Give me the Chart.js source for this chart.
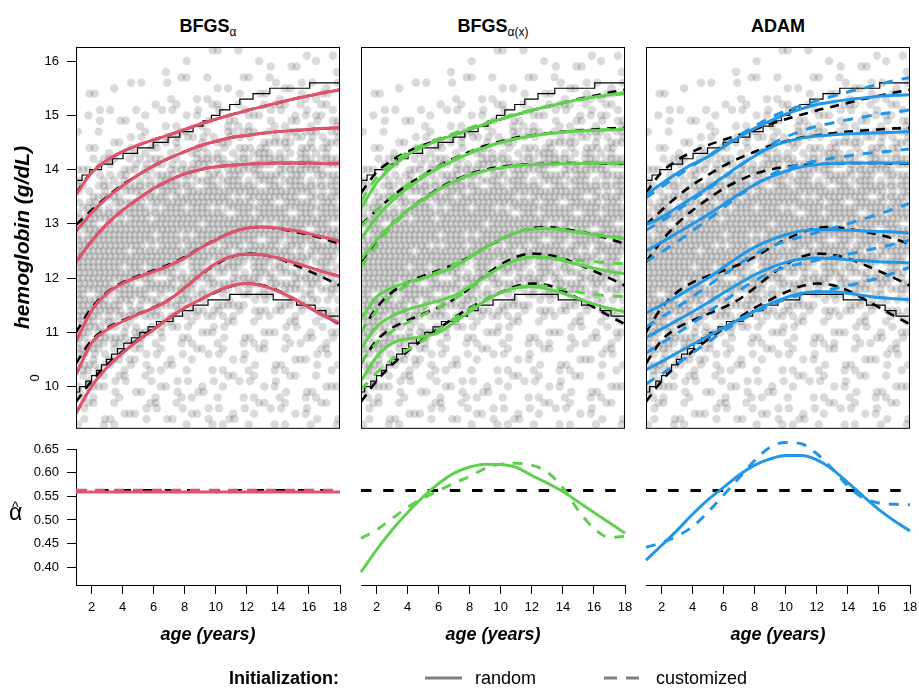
<!DOCTYPE html>
<html>
<head>
<meta charset="utf-8">
<script src="https://cdn.jsdelivr.net/npm/chart.js@4.4.1/dist/chart.umd.min.js"></script>
<style>
  body { margin: 0; background: #fff; }
  #fig { position: relative; width: 919px; height: 689px; overflow: hidden;
         font-family: "Liberation Sans", Arial, Helvetica, sans-serif; color: #000; }
  #fig canvas { position: absolute; }
  .ttl { position: absolute; top: 16px; width: 264px; text-align: center;
         font-weight: bold; font-size: 18px; line-height: 20px; }
  .ttl sub { font-size: 12px; font-weight: normal; vertical-align: -4px; line-height: 0; }
  .txt { position: absolute; white-space: nowrap; font-size: 18px; line-height: 20px; }
</style>
</head>
<body>
<div id="fig">
  <div class="ttl" style="left:76px">BFGS<sub>α</sub></div>
  <div class="ttl" style="left:361px">BFGS<sub>α(x)</sub></div>
  <div class="ttl" style="left:646px">ADAM</div>

  <canvas id="top0" width="350" height="432" style="left:0px;top:0px"></canvas>
  <canvas id="top1" width="350" height="432" style="left:285px;top:0px"></canvas>
  <canvas id="top2" width="350" height="432" style="left:570px;top:0px"></canvas>
  <canvas id="bot0" width="350" height="225" style="left:0px;top:430px"></canvas>
  <canvas id="bot1" width="350" height="225" style="left:285px;top:430px"></canvas>
  <canvas id="bot2" width="350" height="225" style="left:570px;top:430px"></canvas>

  <div class="txt" style="left:31px;top:368px;font-size:13px;transform:rotate(-90deg)">0</div>
  <div class="txt" style="left:9px;top:500px;font-size:23px;line-height:24px">α</div>
  <div class="txt" style="left:12px;top:500px;font-size:14px;line-height:14px">^</div>

  <div class="txt" style="left:229px;top:668px;font-weight:bold">Initialization:</div>
  <svg style="position:absolute;left:420px;top:670px" width="230" height="16">
    <line x1="5" y1="8" x2="42" y2="8" stroke="#808080" stroke-width="3"/>
    <line x1="184" y1="8" x2="219" y2="8" stroke="#808080" stroke-width="3" stroke-dasharray="13 9"/>
  </svg>
  <div class="txt" style="left:475px;top:668px">random</div>
  <div class="txt" style="left:656px;top:668px">customized</div>
</div>

<script>
const FONT = '"Liberation Sans", Arial, Helvetica, sans-serif';
const RED = '#DF536B', GREEN = '#61D04F', BLUE = '#2297E6';

// ---------- data ----------
const AGES = [1, 2, 3, 4, 5, 6, 7, 8, 9, 10, 11, 12, 13, 14, 15, 16, 17, 18];
const HGB_TICKS = [10, 11, 12, 13, 14, 15, 16];
const AGE_TICKS = [2, 4, 6, 8, 10, 12, 14, 16, 18];
const ALPHA_TICKS = [0.40, 0.45, 0.50, 0.55, 0.60, 0.65];

// true quantile curves (black dashed), top to bottom
const trueA = [13.57, 13.95, 14.17, 14.33, 14.45, 14.55, 14.64, 14.74, 14.84, 14.93, 15.01, 15.09, 15.16, 15.23, 15.30, 15.36, 15.42, 15.47];
const trueB = [12.98, 13.25, 13.50, 13.72, 13.90, 14.07, 14.21, 14.33, 14.44, 14.52, 14.59, 14.63, 14.67, 14.70, 14.72, 14.74, 14.76, 14.77];
const trueC = [12.30, 12.68, 13.00, 13.25, 13.46, 13.65, 13.80, 13.92, 14.00, 14.05, 14.08, 14.10, 14.11, 14.12, 14.12, 14.12, 14.11, 14.11];
const trueD = [11.00, 11.45, 11.74, 11.92, 12.04, 12.14, 12.25, 12.39, 12.56, 12.71, 12.84, 12.92, 12.94, 12.91, 12.86, 12.80, 12.72, 12.63];
const trueE = [10.43, 10.85, 11.08, 11.22, 11.34, 11.46, 11.61, 11.82, 12.05, 12.25, 12.39, 12.45, 12.43, 12.36, 12.25, 12.13, 12.00, 11.86];
const trueF = [9.72, 10.10, 10.40, 10.65, 10.87, 11.07, 11.27, 11.45, 11.60, 11.74, 11.85, 11.90, 11.87, 11.77, 11.62, 11.46, 11.30, 11.15];

// BFGS_alpha fits (random and customized start coincide)
const redA = [13.54, 13.94, 14.17, 14.33, 14.45, 14.55, 14.64, 14.74, 14.84, 14.93, 15.01, 15.09, 15.16, 15.23, 15.30, 15.36, 15.42, 15.47];
const redB = [12.86, 13.20, 13.48, 13.70, 13.90, 14.07, 14.21, 14.33, 14.44, 14.52, 14.59, 14.63, 14.67, 14.70, 14.72, 14.74, 14.76, 14.77];
const redC = [12.30, 12.68, 13.00, 13.25, 13.46, 13.65, 13.80, 13.92, 14.00, 14.05, 14.08, 14.10, 14.11, 14.12, 14.12, 14.12, 14.11, 14.11];
const redD = [10.83, 11.40, 11.72, 11.90, 12.02, 12.12, 12.23, 12.37, 12.55, 12.70, 12.84, 12.92, 12.94, 12.92, 12.88, 12.82, 12.75, 12.68];
const redE = [10.22, 10.80, 11.05, 11.20, 11.33, 11.45, 11.60, 11.82, 12.06, 12.27, 12.40, 12.44, 12.43, 12.37, 12.29, 12.20, 12.11, 12.03];
const redF = [9.51, 10.00, 10.35, 10.62, 10.85, 11.05, 11.27, 11.45, 11.60, 11.75, 11.86, 11.90, 11.86, 11.76, 11.62, 11.46, 11.30, 11.17];

// BFGS_alpha(x) fits
const greenA = [13.28, 13.75, 14.05, 14.27, 14.42, 14.54, 14.64, 14.74, 14.84, 14.93, 15.01, 15.09, 15.16, 15.23, 15.29, 15.34, 15.38, 15.42];
const greenB = [12.72, 13.12, 13.42, 13.66, 13.86, 14.03, 14.17, 14.30, 14.41, 14.50, 14.57, 14.62, 14.66, 14.69, 14.71, 14.72, 14.73, 14.74];
const greenC = [12.34, 12.70, 13.00, 13.25, 13.45, 13.63, 13.78, 13.90, 13.98, 14.03, 14.07, 14.09, 14.10, 14.11, 14.11, 14.12, 14.12, 14.12];
const greenD = [11.25, 11.65, 11.82, 11.92, 12.00, 12.09, 12.21, 12.38, 12.56, 12.72, 12.84, 12.90, 12.91, 12.88, 12.84, 12.80, 12.76, 12.72];
const greenE = [10.70, 11.10, 11.30, 11.42, 11.50, 11.58, 11.68, 11.84, 12.03, 12.20, 12.33, 12.39, 12.38, 12.32, 12.25, 12.18, 12.12, 12.08];
const greenF = [10.10, 10.55, 10.80, 10.88, 10.92, 11.00, 11.18, 11.38, 11.58, 11.73, 11.82, 11.84, 11.80, 11.72, 11.62, 11.52, 11.44, 11.38];
const greenA2 = [13.42, 13.85, 14.12, 14.32, 14.46, 14.57, 14.67, 14.77, 14.86, 14.95, 15.03, 15.10, 15.17, 15.23, 15.28, 15.33, 15.37, 15.40];
const greenB2 = [12.95, 13.25, 13.50, 13.72, 13.90, 14.06, 14.20, 14.32, 14.42, 14.50, 14.57, 14.62, 14.66, 14.69, 14.71, 14.73, 14.74, 14.75];
const greenC2 = [12.20, 12.60, 12.95, 13.22, 13.44, 13.63, 13.78, 13.90, 13.98, 14.03, 14.07, 14.09, 14.10, 14.11, 14.11, 14.11, 14.11, 14.11];
const greenD2 = [11.00, 11.40, 11.68, 11.87, 12.00, 12.12, 12.25, 12.40, 12.57, 12.72, 12.84, 12.91, 12.92, 12.90, 12.86, 12.82, 12.78, 12.74];
const greenE2 = [10.45, 10.80, 11.02, 11.18, 11.32, 11.46, 11.61, 11.80, 12.02, 12.20, 12.33, 12.39, 12.39, 12.36, 12.33, 12.30, 12.28, 12.26];
const greenF2 = [9.94, 10.25, 10.50, 10.68, 10.85, 11.05, 11.25, 11.43, 11.60, 11.73, 11.82, 11.86, 11.85, 11.80, 11.74, 11.70, 11.67, 11.66];

// ADAM fits
const blueA = [13.54, 13.74, 13.93, 14.10, 14.24, 14.42, 14.60, 14.76, 14.90, 15.02, 15.12, 15.20, 15.25, 15.29, 15.32, 15.35, 15.37, 15.38];
const blueB = [12.98, 13.12, 13.30, 13.48, 13.67, 13.87, 14.07, 14.25, 14.41, 14.51, 14.58, 14.62, 14.64, 14.66, 14.67, 14.68, 14.69, 14.70];
const blueC = [12.50, 12.66, 12.83, 13.00, 13.17, 13.36, 13.55, 13.72, 13.86, 13.97, 14.05, 14.09, 14.11, 14.12, 14.12, 14.12, 14.12, 14.12];
const blueD = [11.36, 11.50, 11.66, 11.83, 12.00, 12.20, 12.40, 12.57, 12.70, 12.80, 12.87, 12.89, 12.89, 12.88, 12.87, 12.86, 12.85, 12.83];
const blueE = [10.90, 11.06, 11.22, 11.38, 11.55, 11.73, 11.90, 12.06, 12.19, 12.29, 12.35, 12.37, 12.36, 12.34, 12.32, 12.30, 12.29, 12.28];
const blueF = [10.31, 10.46, 10.62, 10.78, 10.93, 11.08, 11.24, 11.39, 11.53, 11.64, 11.72, 11.75, 11.75, 11.72, 11.68, 11.64, 11.62, 11.60];
const blueA2 = [13.48, 13.68, 13.88, 14.07, 14.25, 14.44, 14.63, 14.80, 14.96, 15.08, 15.18, 15.27, 15.35, 15.43, 15.50, 15.57, 15.64, 15.70];
const blueB2 = [12.88, 13.05, 13.24, 13.44, 13.64, 13.85, 14.06, 14.26, 14.45, 14.60, 14.71, 14.80, 14.86, 14.92, 14.97, 15.02, 15.06, 15.10];
const blueC2 = [12.30, 12.48, 12.67, 12.87, 13.08, 13.30, 13.52, 13.72, 13.90, 14.02, 14.10, 14.16, 14.21, 14.25, 14.29, 14.32, 14.35, 14.38];
const blueD2 = [11.10, 11.28, 11.46, 11.66, 11.86, 12.06, 12.26, 12.44, 12.58, 12.68, 12.76, 12.84, 12.92, 13.00, 13.09, 13.18, 13.28, 13.38];
const blueE2 = [10.62, 10.80, 10.98, 11.17, 11.37, 11.57, 11.77, 11.95, 12.10, 12.20, 12.27, 12.33, 12.38, 12.44, 12.50, 12.56, 12.63, 12.70];
const blueF2 = [10.05, 10.23, 10.42, 10.62, 10.82, 11.02, 11.20, 11.36, 11.50, 11.61, 11.69, 11.75, 11.80, 11.86, 11.93, 12.00, 12.10, 12.20];

// empirical envelope (step lines): value holds from the given age on
const upperStepAges = [1, 1.39, 1.89, 2.64, 3.35, 4.03, 4.96, 5.97, 6.93, 7.68, 8.54, 9.18, 9.72, 10.26, 10.9, 11.55, 12.4, 13.48, 16.05, 18];
const upperStepVals = [13.8, 13.9, 14.0, 14.1, 14.2, 14.3, 14.4, 14.5, 14.6, 14.7, 14.8, 14.9, 15.0, 15.1, 15.2, 15.3, 15.4, 15.5, 15.6, 15.6];
const lowerStepAges = [1, 1.24, 1.63, 2.0, 2.32, 2.64, 2.96, 3.29, 3.67, 4.08, 4.57, 5.11, 5.64, 6.18, 7.25, 7.86, 8.54, 9.5, 10.9, 13.7, 15.2, 16.4, 17.1, 18];
const lowerStepVals = [9.9, 10.0, 10.1, 10.2, 10.3, 10.4, 10.5, 10.6, 10.7, 10.8, 10.9, 11.0, 11.1, 11.2, 11.3, 11.4, 11.5, 11.6, 11.7, 11.6, 11.5, 11.4, 11.3, 11.3];

// observations, counted per 1-year x 0.5 g/dL cell (rows from 16.0 down to 9.5)
const cloudAgeBins = [1, 2, 3, 4, 5, 6, 7, 8, 9, 10, 11, 12, 13, 14, 15, 16, 17];
const cloudRows = [16.0, 15.5, 15.0, 14.5, 14.0, 13.5, 13.0, 12.5, 12.0, 11.5, 11.0, 10.5, 10.0, 9.5];
const cloudCounts = [
  [0, 0, 0, 0, 0, 1, 0, 1, 1, 1, 1, 1, 1, 1, 2, 1, 2],
  [1, 1, 1, 1, 1, 1, 2, 2, 2, 2, 2, 2, 3, 3, 3, 3, 3],
  [1, 2, 2, 2, 2, 3, 3, 3, 3, 4, 4, 4, 5, 5, 5, 5, 5],
  [2, 2, 3, 3, 4, 4, 5, 6, 6, 7, 7, 7, 8, 8, 8, 8, 8],
  [4, 5, 6, 7, 8, 9, 10, 10, 11, 11, 11, 11, 11, 11, 11, 11, 11],
  [8, 9, 10, 11, 12, 13, 13, 13, 13, 13, 13, 13, 13, 13, 13, 13, 13],
  [12, 13, 14, 14, 14, 14, 14, 14, 14, 14, 14, 14, 13, 13, 13, 13, 13],
  [15, 15, 15, 14, 14, 14, 14, 14, 13, 13, 13, 13, 13, 12, 12, 12, 12],
  [15, 15, 14, 13, 13, 12, 12, 11, 11, 10, 10, 10, 10, 10, 10, 10, 10],
  [14, 13, 12, 11, 10, 9, 8, 8, 7, 7, 6, 6, 6, 6, 6, 6, 6],
  [12, 11, 9, 8, 6, 5, 5, 4, 4, 4, 3, 3, 4, 4, 4, 4, 5],
  [10, 8, 6, 5, 4, 4, 3, 3, 3, 3, 3, 3, 3, 3, 3, 3, 4],
  [6, 5, 4, 3, 3, 3, 3, 3, 3, 3, 3, 3, 3, 3, 3, 3, 3],
  [4, 3, 3, 3, 3, 3, 3, 3, 3, 3, 3, 3, 3, 3, 3, 3, 3]
];

// estimated alpha over age
const alphaTrue = [0.5625, 0.5625];
const alphaRed = [0.559, 0.559];
const alphaRed2 = [0.5628, 0.5628];
const alphaGreen = [0.390, 0.437, 0.479, 0.516, 0.549, 0.577, 0.599, 0.612, 0.618, 0.617, 0.611, 0.594, 0.578, 0.560, 0.538, 0.516, 0.494, 0.472];
const alphaGreen2 = [0.461, 0.479, 0.503, 0.527, 0.546, 0.562, 0.578, 0.592, 0.609, 0.618, 0.620, 0.616, 0.601, 0.568, 0.520, 0.482, 0.463, 0.466];
const alphaBlue = [0.415, 0.446, 0.478, 0.512, 0.543, 0.569, 0.595, 0.616, 0.629, 0.636, 0.636, 0.627, 0.607, 0.579, 0.550, 0.522, 0.498, 0.477];
const alphaBlue2 = [0.442, 0.452, 0.466, 0.486, 0.517, 0.553, 0.589, 0.626, 0.654, 0.664, 0.661, 0.640, 0.608, 0.572, 0.546, 0.536, 0.533, 0.532];

// ---------- helpers ----------
// spread a cell's count over a 3 x 5 lattice inside the cell
const SLOT_ORDER = [7, 0, 14, 4, 10, 2, 12, 5, 9, 1, 13, 3, 11, 6, 8];
function cloudPoints() {
  const pts = [];
  cloudRows.forEach((h, ri) => {
    cloudCounts[ri].forEach((n, ci) => {
      const a0 = cloudAgeBins[ci];
      for (let k = 0; k < n; k++) {
        const s = SLOT_ORDER[(k + ci * 4 + ri * 7) % 15];
        const row = Math.floor(s / 3);
        const shift = row % 2 ? 0.12 : -0.12;
        pts.push({ x: a0 + ((s % 3) + 0.5 + shift) / 3, y: h + (row - 2) * 0.1 });
      }
    });
  });
  return pts;
}

function pairs(xs, ys) {
  return ys.map((y, i) => ({ x: xs[i], y }));
}

function curve(xs, ys, color, opts = {}) {
  return {
    data: pairs(xs, ys),
    borderColor: color,
    borderWidth: opts.width || 3,
    borderDash: opts.dash || [],
    borderCapStyle: 'butt',
    pointRadius: 0,
    fill: false,
    cubicInterpolationMode: 'monotone',
    stepped: opts.stepped || false,
    clip: opts.clip === undefined ? 0 : opts.clip,
    order: opts.order || 5
  };
}

// fixed axis band so every panel lines up; the y band is reserved even when hidden
function axisFit(w, h) {
  return s => {
    if (w !== undefined) s.width = w;
    if (h !== undefined) s.height = h;
    s.paddingTop = s.paddingBottom = s.paddingLeft = s.paddingRight = 0;
  };
}

// box around the upper panels
const boxPlugin = {
  id: 'box',
  afterDraw(chart, args, o) {
    if (!o.on) return;
    const { ctx, chartArea: a } = chart;
    ctx.save();
    ctx.strokeStyle = '#000';
    ctx.lineWidth = 1;
    ctx.strokeRect(a.left + 0.5, a.top + 0.5, a.right - a.left - 1, a.bottom - a.top);
    ctx.restore();
  }
};

const tickFont = { family: FONT, size: 13 };

function baseOptions() {
  return {
    responsive: false,
    animation: false,
    devicePixelRatio: 1,
    events: [],
    plugins: { legend: { display: false }, tooltip: { enabled: false } }
  };
}

// ---------- upper panels ----------
function topPanel(id, idx, fitsSolid, fitsDashed, color) {
  const cloud = {
    data: cloudPoints(),
    showLine: false,
    pointRadius: 4.2,
    pointBackgroundColor: 'rgba(0,0,0,0.145)',
    pointBorderWidth: 0,
    clip: 0,
    order: 10
  };
  const datasets = [cloud,
    curve(upperStepAges, upperStepVals, '#000', { width: 1.2, stepped: 'before', order: 8 }),
    curve(lowerStepAges, lowerStepVals, '#000', { width: 1.2, stepped: 'before', order: 8 })];
  [trueA, trueB, trueC, trueD, trueE, trueF].forEach(q =>
    datasets.push(curve(AGES, q, '#000', { width: 2.6, dash: [9, 7], order: 6 })));
  fitsSolid.forEach(q => datasets.push(curve(AGES, q, color, { width: 3, order: 4 })));
  fitsDashed.forEach(q => datasets.push(curve(AGES, q, color, { width: 3, dash: [10, 9], order: 2 })));

  const opts = baseOptions();
  opts.layout = { padding: { left: 0, top: 47, right: 10, bottom: 4 } };
  opts.plugins.box = { on: true };
  opts.scales = {
    x: { type: 'linear', min: 1, max: 18, display: false },
    y: {
      type: 'linear', min: 9.24, max: 16.26, display: idx === 0, position: 'left',
      afterBuildTicks: s => { s.ticks = HGB_TICKS.map(v => ({ value: v })); },
      afterFit: axisFit(76),
      grid: { drawOnChartArea: false, tickLength: 9, color: '#000', lineWidth: 1 },
      border: { display: false },
      ticks: { font: tickFont, color: '#000', padding: 8 },
      title: {
        display: true, text: 'hemoglobin (g/dL)', color: '#000',
        font: { family: FONT, size: 21, weight: 'bold', style: 'italic' },
        padding: { top: 11, bottom: 0 }
      }
    }
  };
  new Chart(document.getElementById(id), { type: 'line', data: { datasets }, options: opts, plugins: [boxPlugin] });
}

// ---------- lower panels ----------
function bottomPanel(id, idx, solid, dashed, color) {
  const xs = solid.length === 2 ? [1, 18] : AGES;
  const datasets = [
    curve([1, 18], alphaTrue, '#000', { width: 3, dash: [10.5, 11.7], clip: false, order: 6 }),
    curve(xs, solid, color, { width: 3, clip: false, order: 4 }),
    curve(xs, dashed, color, { width: 3, dash: [10, 9], clip: false, order: 2 })
  ];
  const opts = baseOptions();
  opts.layout = { padding: { left: 0, top: 19, right: 10, bottom: 0 } };
  opts.scales = {
    x: {
      type: 'linear', min: 1, max: 18, position: 'bottom',
      afterBuildTicks: s => { s.ticks = AGE_TICKS.map(v => ({ value: v })); },
      afterFit: axisFit(undefined, 70),
      grid: { drawOnChartArea: false, tickLength: 9, color: '#000', lineWidth: 1 },
      border: { display: true, color: '#000', width: 1 },
      ticks: { font: tickFont, color: '#000', padding: 6, maxRotation: 0, autoSkip: false },
      title: {
        display: true, text: 'age (years)', color: '#000',
        font: { family: FONT, size: 18, weight: 'bold', style: 'italic' },
        padding: { top: 0, bottom: 9 }
      }
    },
    y: {
      type: 'linear', min: 0.3626, max: 0.65, display: idx === 0, position: 'left',
      afterBuildTicks: s => { s.ticks = ALPHA_TICKS.map(v => ({ value: v })); },
      afterFit: axisFit(76),
      grid: { drawOnChartArea: false, tickLength: 9, color: '#000', lineWidth: 1 },
      border: { display: true, color: '#000', width: 1 },
      ticks: { font: tickFont, color: '#000', padding: 8, callback: v => v.toFixed(2) }
    }
  };
  new Chart(document.getElementById(id), { type: 'line', data: { datasets }, options: opts });
}

topPanel('top0', 0, [redA, redB, redC, redD, redE, redF], [redA, redB, redC, redD, redE, redF], RED);
topPanel('top1', 1, [greenA, greenB, greenC, greenD, greenE, greenF], [greenA2, greenB2, greenC2, greenD2, greenE2, greenF2], GREEN);
topPanel('top2', 2, [blueA, blueB, blueC, blueD, blueE, blueF], [blueA2, blueB2, blueC2, blueD2, blueE2, blueF2], BLUE);

bottomPanel('bot0', 0, alphaRed, alphaRed2, RED);
bottomPanel('bot1', 1, alphaGreen, alphaGreen2, GREEN);
bottomPanel('bot2', 2, alphaBlue, alphaBlue2, BLUE);
</script>
</body>
</html>
